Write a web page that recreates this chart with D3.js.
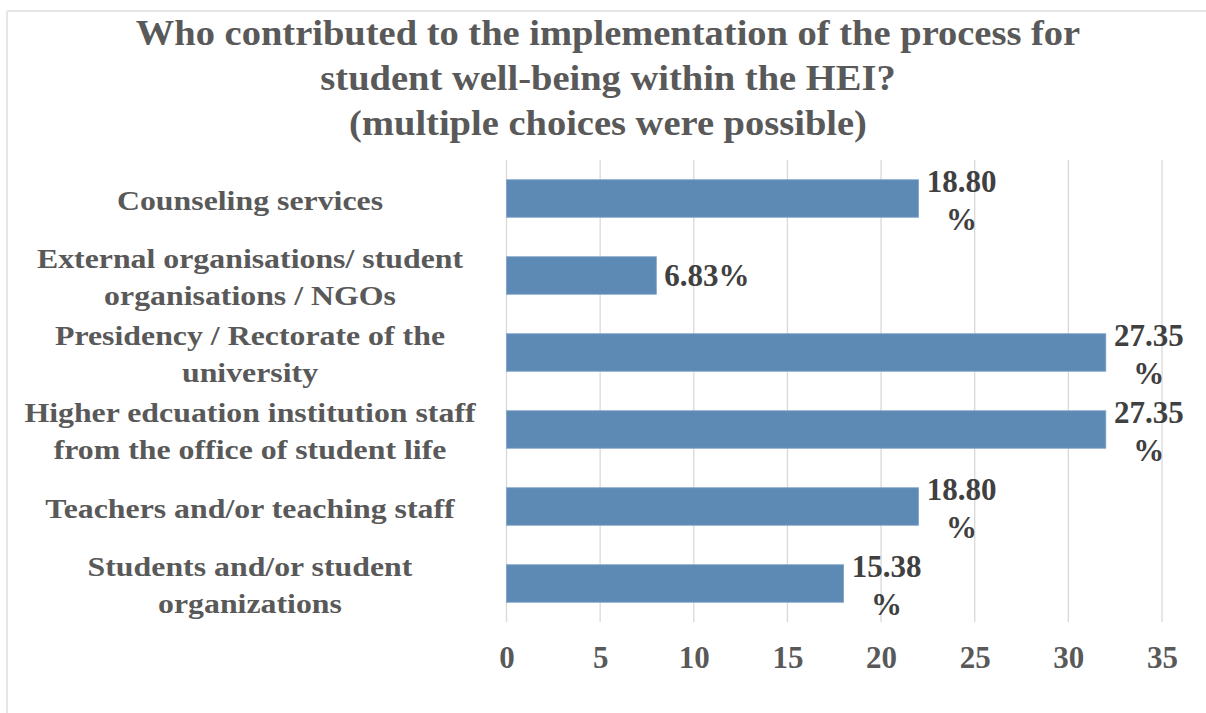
<!DOCTYPE html>
<html>
<head>
<meta charset="utf-8">
<script src="https://cdn.jsdelivr.net/npm/d3@7/dist/d3.min.js"></script>
<style>
  html, body { margin: 0; padding: 0; background: #ffffff; }
  svg { display: block; }
  text { font-family: "Liberation Serif", "Times New Roman", serif; font-weight: bold; }
</style>
</head>
<body>
<svg id="chart" width="1206" height="713"></svg>
<script>
// ---- data ----
const titleLines = [
  "Who contributed to the implementation of the process for",
  "student well-being within the HEI?",
  "(multiple choices were possible)"
];
const categories = [
  "Counseling services",
  "External organisations/ student organisations / NGOs",
  "Presidency / Rectorate of the university",
  "Higher edcuation institution staff from the office of student life",
  "Teachers and/or teaching staff",
  "Students and/or student organizations"
];
const counts = [22, 8, 32, 32, 22, 18];
const pctLabels = ["18.80%", "6.83%", "27.35%", "27.35%", "18.80%", "15.38%"];
const xTicks = [0, 5, 10, 15, 20, 25, 30, 35];

// ---- layout ----
const svg = d3.select("#chart");
const W = 1206, H = 713;
const plot = { left: 506.5, right: 1162, top: 160, bottom: 622 };

// chart border (top and left visible)
svg.append("line").attr("x1", 7).attr("x2", W).attr("y1", 11).attr("y2", 11)
  .attr("stroke", "#e6e6e6").attr("stroke-width", 2);
svg.append("line").attr("x1", 7).attr("x2", 7).attr("y1", 11).attr("y2", H)
  .attr("stroke", "#e6e6e6").attr("stroke-width", 2);

// title (slightly wide lettering)
const titleG = svg.append("g").attr("transform", "translate(608,0) scale(1.10,1)");
titleG.selectAll("text").data(titleLines).join("text")
  .attr("x", 0).attr("y", (d, i) => 45 + i * 45)
  .attr("text-anchor", "middle")
  .attr("font-size", 35)
  .attr("fill", "#595959")
  .text(d => d);

const x = d3.scaleLinear().domain([0, 35]).range([plot.left, plot.right]);
const y = d3.scaleBand().domain(categories).range([plot.top, plot.bottom])
  .paddingInner(0.513).paddingOuter(0.2565);

// gridlines
svg.append("g").selectAll("line").data(xTicks).join("line")
  .attr("x1", d => x(d)).attr("x2", d => x(d))
  .attr("y1", plot.top).attr("y2", plot.bottom)
  .attr("stroke", "#d9d9d9").attr("stroke-width", 1.3);

// x axis tick labels
const xAxis = d3.axisBottom(x).tickValues(xTicks).tickSize(0).tickPadding(0).tickFormat(d3.format("d"));
const gx = svg.append("g").attr("transform", `translate(0,${plot.bottom})`).call(xAxis);
gx.select(".domain").remove();
gx.selectAll("text")
  .attr("y", 35).attr("dy", "0.35em")
  .attr("font-size", 31).attr("fill", "#595959")
  .style("font-family", '"Liberation Serif", "Times New Roman", serif')
  .style("font-weight", "bold");

// bars
svg.append("g").selectAll("rect").data(categories).join("rect")
  .attr("x", x(0))
  .attr("y", d => y(d))
  .attr("width", (d, i) => x(counts[i]) - x(0))
  .attr("height", y.bandwidth())
  .attr("fill", "#5d8ab5")
  .attr("stroke", "#7fa3c7").attr("stroke-width", 0.8);

// category labels with wrapping (wide lettering)
const catSx = 1.137;
const catG = svg.append("g").attr("transform", `translate(250,0) scale(${catSx},1)`);
const maxCatW = 472 / catSx, catLH = 37;
categories.forEach(cat => {
  const cy = y(cat) + y.bandwidth() / 2;
  const words = cat.split(" ");
  const probe = catG.append("text").attr("font-size", 28).style("visibility", "hidden");
  const lines = [];
  let line = [];
  words.forEach(w => {
    const test = line.concat([w]).join(" ");
    probe.text(test);
    if (probe.node().getComputedTextLength() > maxCatW && line.length) {
      lines.push(line.join(" "));
      line = [w];
    } else {
      line.push(w);
    }
  });
  lines.push(line.join(" "));
  probe.remove();
  const t = catG.append("text")
    .attr("text-anchor", "middle")
    .attr("font-size", 28)
    .attr("fill", "#595959");
  lines.forEach((ln, j) => {
    t.append("tspan")
      .attr("x", 0)
      .attr("y", cy + 1.5 + (j - (lines.length - 1) / 2) * catLH)
      .attr("dy", "0.35em")
      .text(ln);
  });
});

// data labels (wrap number / % when too wide)
const lblG = svg.append("g");
categories.forEach((cat, i) => {
  const cy = y(cat) + y.bandwidth() / 2;
  const end = x(counts[i]);
  const probe = lblG.append("text").attr("font-size", 31).text(pctLabels[i]);
  const wFull = probe.node().getComputedTextLength();
  probe.remove();
  if (wFull <= 92) {
    lblG.append("text")
      .attr("x", end + 8).attr("y", cy).attr("dy", "0.35em")
      .attr("font-size", 31).attr("fill", "#404040")
      .text(pctLabels[i]);
  } else {
    const num = pctLabels[i].replace("%", "");
    const cx = end + 43;
    const t = lblG.append("text").attr("text-anchor", "middle")
      .attr("font-size", 31).attr("fill", "#404040");
    [num, "%"].forEach((ln, j) => {
      t.append("tspan").attr("x", cx).attr("y", cy - 17 + j * 38).attr("dy", "0.35em").text(ln);
    });
  }
});
</script>
</body>
</html>
